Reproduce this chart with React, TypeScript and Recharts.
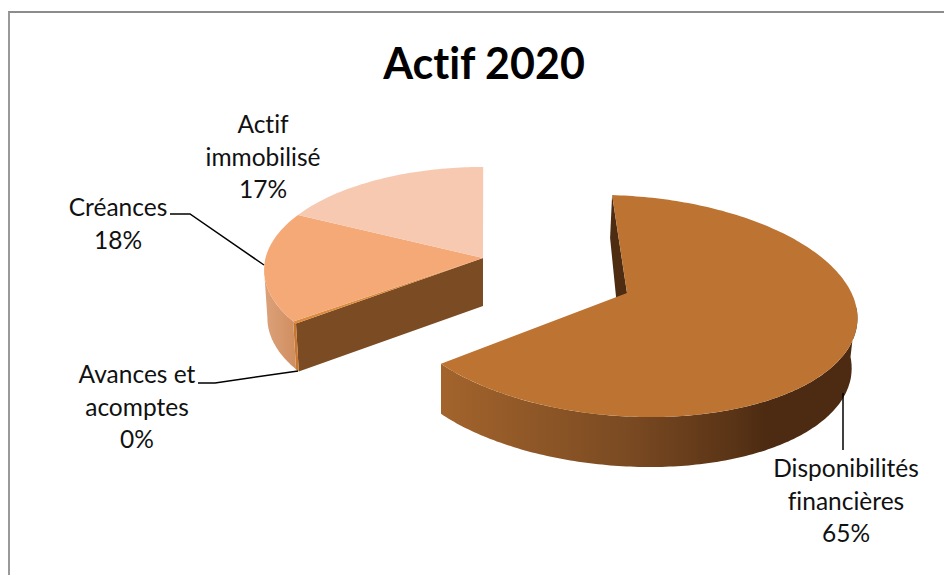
import React from 'react';
import { PieChart, Pie } from 'recharts';

const categories = ['Disponibilités\nfinancières', 'Avances et\nacomptes', 'Créances', 'Actif\nimmobilisé'];
const shares = [65.1, 0.4, 17.9, 16.6];
const topColors = ['#bd7433', '#dd8a3c', '#f5a977', '#f7c9b1'];
const sideColors = ['url(#bigWall)', '#c8772f', 'url(#leftWall)', '#f7c9b1'];

const data = categories.map((name, i) => ({ name, value: shares[i] }));

const FONT = 'Lato, sans-serif';
const noLigatures = { fontVariantLigatures: 'none' } as React.CSSProperties;

// exploded groups, seen in perspective: sizes are relative to the pie radius
const BIG = { dx: 70, dy: 16, rx: 1.031, ry: 0.493, shear: 0.135, tilt: 5, apexX: 2, apexY: -13, t0: 0.5, scale: 1.005, depth: 50, taper: 0.975, taperSide: 1 };
const LEFT = { dx: -72, dy: -20, rx: 0.973, ry: 0.458, shear: 0, tilt: 0, apexX: 0, apexY: -12, t0: 12.3, scale: 0.966, depth: 48, taper: 0.985, taperSide: -1 };

const labelSpots = [
    { x: 846, y: 477, line: '843,393 843,450' },
    { x: 137, y: 383, line: '198,383 215,383 298,371' },
    { x: 118, y: 216, line: '170,214 190,214 264,265' },
    { x: 263, y: 133, line: '' },
];

function SliceShape(props: any) {
    const { cx, cy, outerRadius, startAngle, endAngle, index } = props;
    const g = index === 0 ? BIG : LEFT;
    const xc = cx + g.dx;
    const yc = cy + g.dy;
    const rx = outerRadius * g.rx;
    const ry = outerRadius * g.ry;
    const toTheta = (a: number) => g.t0 + g.scale * a;
    const pt = (deg: number, drop = 0, taper = 1) => {
        const t = (deg * Math.PI) / 180;
        const c = Math.cos(t);
        const s = Math.sin(t);
        const k = s * g.taperSide > 0 ? taper : 1;
        return [xc + rx * k * s - g.shear * ry * c, yc - ry * c + g.tilt * s + drop];
    };
    const curve = (from: number, to: number, drop = 0, taper = 1) => {
        const out: number[][] = [];
        const n = Math.max(2, Math.ceil(Math.abs(to - from)));
        for (let i = 0; i <= n; i++) out.push(pt(from + ((to - from) * i) / n, drop, taper));
        return out;
    };
    const toPath = (pts: number[][]) => 'M' + pts.map((p) => p[0].toFixed(1) + ' ' + p[1].toFixed(1)).join('L') + 'Z';

    const t1 = toTheta(90 - startAngle);
    const t2 = toTheta(90 - endAngle);
    const apex = [xc + g.apexX, yc + g.apexY];

    const wallFrom = Math.max(t1, 88);
    const wallTo = Math.min(t2, 270);
    const hasWall = wallTo > wallFrom;

    return (
        <g>
            {index === 0 && (
                <path
                    d={toPath([pt(t1), [pt(t1)[0] - 2, pt(t1)[1] + 43], [apex[0] - 7, apex[1] + 43], apex])}
                    fill="#4d2c12"
                />
            )}
            {index === 1 && (
                <path
                    d={toPath([apex, [apex[0], apex[1] + g.depth], pt(t1, g.depth, g.taper), pt(t1)])}
                    fill="#7b4b23"
                />
            )}
            {hasWall && (
                <path
                    d={toPath([
                        ...curve(wallFrom, wallTo),
                        ...curve(wallTo, wallFrom, g.depth, g.taper),
                    ])}
                    fill={sideColors[index]}
                />
            )}
            <path d={toPath([apex, ...curve(t1, t2)])} fill={topColors[index]} />
        </g>
    );
}

function SliceLabel(props: any) {
    const { index, name, percent } = props;
    const spot = labelSpots[index];
    const lines = [...String(name).split('\n'), Math.round(percent * 100) + '%'];
    return (
        <g>
            {spot.line && <polyline points={spot.line} fill="none" stroke="#000" strokeWidth={1.5} />}
            {lines.map((t, i) => (
                <text key={i} x={spot.x} y={spot.y + i * 32.5} textAnchor="middle" fontFamily={FONT} fontSize={24.5} fill="#111" style={noLigatures}>
                    {t}
                </text>
            ))}
        </g>
    );
}

export default function App() {
    return (
        <div style={{ position: 'absolute', left: 0, top: 0, width: 944, height: 575, overflow: 'hidden', background: '#fff' }}>
            <div style={{ position: 'absolute', left: 8, top: 11, width: 960, height: 600, borderLeft: '2px solid #999', borderTop: '2px solid #8c8c8c' }} />
            <div style={{ position: 'absolute', left: 0, top: 0 }}>
                <PieChart width={944} height={575} margin={{ top: 0, right: 0, bottom: 0, left: 0 }}>
                    <defs>
                        <linearGradient id="bigWall" x1="0" y1="0" x2="1" y2="0">
                            <stop offset="0" stopColor="#a3642c" />
                            <stop offset="0.45" stopColor="#7a4a22" />
                            <stop offset="0.7" stopColor="#5a3416" />
                            <stop offset="0.78" stopColor="#4c2b12" />
                            <stop offset="1" stopColor="#4c2b12" />
                        </linearGradient>
                        <linearGradient id="leftWall" x1="0" y1="0" x2="1" y2="0">
                            <stop offset="0" stopColor="#dca27a" />
                            <stop offset="1" stopColor="#d08e60" />
                        </linearGradient>
                    </defs>
                    <text x={484} y={79} textAnchor="middle" fontFamily={FONT} fontWeight={700} fontSize={43} fill="#000" style={noLigatures}>
                        Actif 2020
                    </text>
                    <Pie
                        data={data}
                        dataKey="value"
                        nameKey="name"
                        cx={555}
                        cy={290}
                        innerRadius={0}
                        outerRadius={225}
                        startAngle={90}
                        endAngle={-270}
                        stroke="none"
                        shape={SliceShape}
                        label={SliceLabel}
                        labelLine={false}
                        isAnimationActive={false}
                    />
                </PieChart>
            </div>
        </div>
    );
}
